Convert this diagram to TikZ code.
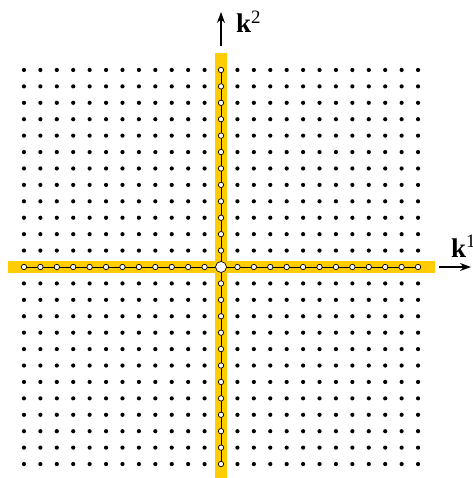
\documentclass[tikz,border=0pt]{standalone}
\usepackage{fontspec}
\setmainfont{Liberation Serif}
\usetikzlibrary{arrows.meta,calc}
\definecolor{band}{RGB}{255,204,0}
\tikzset{
  griddot/.style={fill=black},
  axisdot/.style={draw=black,fill=white,line width=0.7pt},
  axisarrow/.style={line width=1.2pt,-{Stealth[length=11pt,width=8pt]}},
  axislabel/.style={inner sep=0pt,font=\fontsize{27}{30}\selectfont}
}
\begin{document}
\begin{tikzpicture}[x=1pt,y=-1pt]
\useasboundingbox[clip] (0,0) rectangle (472,478);
\def\s{16.42}
\coordinate (O) at (221,267);
% bands
\fill[band] (8,261.3) rectangle (435,272.7);
\fill[band] (215.3,53) rectangle (226.7,478);
% grid dots
\foreach \i in {-12,...,-1,1,2,...,12}{
  \foreach \j in {-12,...,-1,1,2,...,12}{
    \fill[griddot] ($(O)+(\i*\s,\j*\s)$) circle (2.1);
  }
}
% axis lines
\draw[line width=0.8pt] ($(O)+(-12*\s,0)$) -- ($(O)+(12*\s,0)$);
\draw[line width=0.8pt] ($(O)+(0,-12*\s)$) -- ($(O)+(0,12*\s)$);
% axis open dots
\foreach \i in {-12,...,-1,1,2,...,12}{
  \filldraw[axisdot] ($(O)+(\i*\s,0)$) circle (2.7);
  \filldraw[axisdot] ($(O)+(0,\i*\s)$) circle (2.7);
}
\filldraw[axisdot] (O) circle (5.5);
% arrows
\coordinate (a2s) at (221,46);
\coordinate (a2e) at (221,12);
\coordinate (a1s) at (439,267);
\coordinate (a1e) at (471,267);
\draw[axisarrow] (a2s) -- (a2e);
\draw[axisarrow] (a1s) -- (a1e);
\node[axislabel,anchor=base west] (k2) at (236,33) {\textbf{k}\textsuperscript{2}};
\node[axislabel,anchor=base west] (k1) at (451,257) {\textbf{k}\textsuperscript{1}};
\end{tikzpicture}
\end{document}
